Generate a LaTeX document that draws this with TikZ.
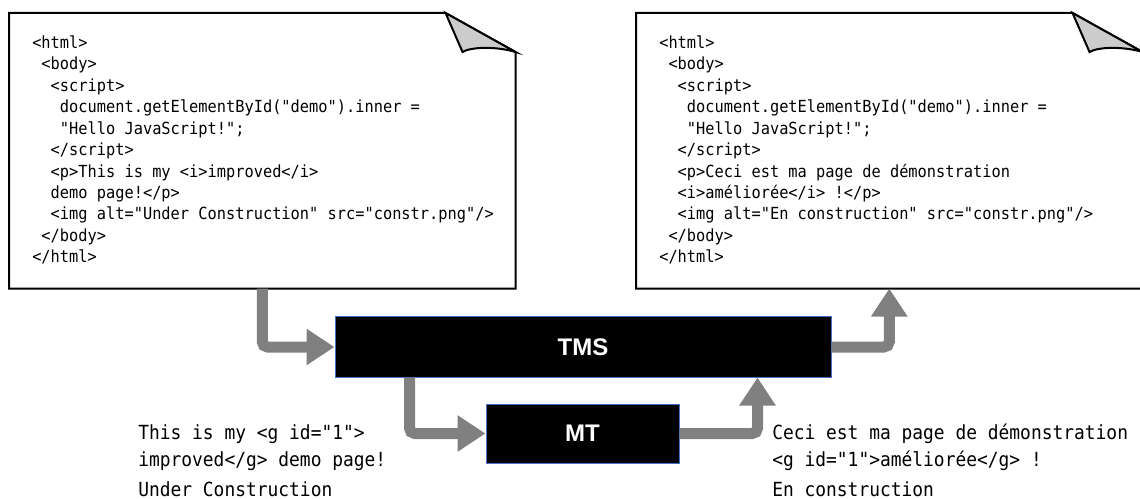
\documentclass[tikz,border=0pt]{standalone}
\usepackage{fontspec}
\setmonofont{DejaVu Sans Mono}[FakeStretch=0.92]
\newfontfamily\boxfont{Liberation Sans}
\usetikzlibrary{arrows.meta,calc}
\newcommand\ind{\hspace*{0.5538em}}
\definecolor{flowgray}{RGB}{128,128,128}
\definecolor{boxblue}{RGB}{68,114,196}
\definecolor{foldgray}{RGB}{204,204,204}
\begin{document}
\begin{tikzpicture}[x=0.75pt,y=-0.75pt,
  doc/.style={rectangle, inner sep=0, minimum width=379.5pt, minimum height=206.25pt, anchor=north west},
  docline/.style={line width=1.5pt, line join=miter},
  codetext/.style={anchor=north west, inner sep=0, align=left, font=\ttfamily\fontsize{12.5}{16.1}\selectfont},
  segtext/.style={anchor=north west, inner sep=0, align=left, font=\ttfamily\fontsize{14.6}{20.25}\selectfont},
  engine/.style={rectangle, fill=black, draw=boxblue, line width=0.75pt, text=white, font=\boxfont\bfseries\fontsize{18}{20}\selectfont},
  flow/.style={draw=flowgray, line width=8.25pt, rounded corners=4pt, -{Triangle[length=21pt,width=26pt]}}
]
\useasboundingbox (0,0) rectangle (1140,499);
\node[doc] (ldoc) at (9,13) {};
\node[doc] (rdoc) at (636,13) {};
\foreach \d in {ldoc,rdoc}{
  \draw[docline, fill=white] (\d.north west) -- ($(\d.north east)+(-70,0)$) -- ($(\d.north east)+(0,39)$) -- (\d.south east) -- (\d.south west) -- cycle;
  \draw[docline, fill=foldgray] ($(\d.north east)+(-70,0)$) -- ($(\d.north east)+(0,39)$) .. controls ($(\d.north east)+(-20,33)$) and ($(\d.north east)+(-45,34)$) .. ($(\d.north east)+(-53,39)$) -- cycle;
}
\node[codetext] (lcode) at (32,33.3) {\rule{0pt}{11pt}<html>\\
\ind<body>\\
\ind\ind<script>\\
\ind\ind\ind document.getElementById("demo").inner =\\
\ind\ind\ind"Hello JavaScript!";\\
\ind\ind</script>\\
\ind\ind<p>This is my <i>improved</i>\\
\ind\ind demo page!</p>\\
\ind\ind<img alt="Under Construction" src="constr.png"/>\\
\ind</body>\\
</html>};
\node[codetext] (rcode) at (659,33.3) {\rule{0pt}{11pt}<html>\\
\ind<body>\\
\ind\ind<script>\\
\ind\ind\ind document.getElementById("demo").inner =\\
\ind\ind\ind"Hello JavaScript!";\\
\ind\ind</script>\\
\ind\ind<p>Ceci est ma page de démonstration\\
\ind\ind<i>améliorée</i> !</p>\\
\ind\ind<img alt="En construction" src="constr.png"/>\\
\ind</body>\\
</html>};
\node[engine, minimum width=372pt, minimum height=45pt] (tms) at (583,347) {TMS};
\node[engine, minimum width=144.75pt, minimum height=44.25pt] (mt) at (582.5,433.5) {MT};
\draw[flow] (ldoc.south) |- (tms.west);
\coordinate (a2) at ($(tms.south west)+(75,0)$);
\draw[flow] (a2) |- (mt.west);
\coordinate (a3) at ($(tms.south east)+(-74,0)$);
\draw[flow] (mt.east) -| (a3);
\draw[flow] (tms.east) -| (rdoc.south);
\node[segtext] (lseg) at (138,421.7) {\rule{0pt}{13pt}This is my <g id="1">\\
improved</g> demo page!\\[2.25pt]
Under Construction};
\node[segtext] (rseg) at (772,421.7) {\rule{0pt}{13pt}Ceci est ma page de démonstration\\
<g id="1">améliorée</g> !\\[2.25pt]
En construction};
\end{tikzpicture}
\end{document}
